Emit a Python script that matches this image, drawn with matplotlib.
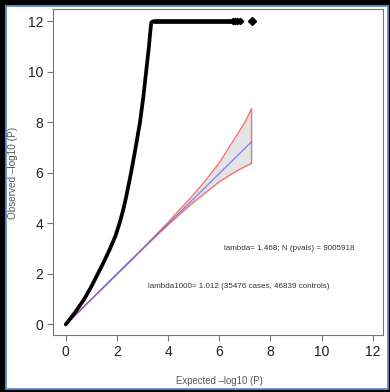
import matplotlib
matplotlib.use('Agg')
import matplotlib.pyplot as plt
from matplotlib.patches import Rectangle

plt.rcParams['font.family'] = ['Liberation Sans', 'DejaVu Sans']

# observed vs expected -log10(P)
exp_curve = [0.0, 0.36, 0.72, 1.0, 1.25, 1.5, 1.73, 1.94, 2.1, 2.235, 2.35, 2.45, 2.55, 2.64, 2.73,
             2.815, 2.9, 2.965, 3.03, 3.085, 3.14, 3.195, 3.25, 3.295, 3.34, 3.4]
obs_curve = [0.0, 0.47, 1.0, 1.5, 2.0, 2.5, 3.0, 3.5, 4.0, 4.5, 5.0, 5.5, 6.0, 6.5, 7.0,
             7.5, 8.0, 8.5, 9.0, 9.5, 10.0, 10.5, 11.0, 11.5, 11.95, 12.0]
exp_top = [3.4, 4.0, 5.0, 6.0, 6.5]
obs_top = [12.0, 12.0, 12.0, 12.0, 12.0]
exp_tail = [6.55, 6.62, 6.7, 6.8]
obs_tail = [12.0, 12.0, 12.0, 12.0]
exp_last = [7.27]
obs_last = [12.0]

# confidence band around the null line
ci_x = [0.0, 1.0, 2.0, 3.0, 4.0, 4.5, 5.0, 5.5, 6.0, 6.5, 7.0, 7.26]
ci_upper = [0.0, 1.0, 2.0, 3.0, 4.05, 4.6, 5.15, 5.75, 6.4, 7.2, 8.0, 8.55]
ci_lower = [0.0, 1.0, 2.0, 3.0, 3.95, 4.4, 4.85, 5.25, 5.65, 5.97, 6.25, 6.38]
null_x = [0.0, 7.26]
null_y = [0.0, 7.23]

ticks = [0, 2, 4, 6, 8, 10, 12]
txt_lambda = 'lambda= 1.468; N (pvals) = 9005918'
txt_lambda1000 = 'lambda1000= 1.012 (35476 cases, 46839 controls)'

fig = plt.figure(figsize=(3.9, 3.92), dpi=100)
fig.patch.set_facecolor('black')
fig.patches.append(Rectangle((5.5 / 390, 3.5 / 392), 382 / 390, 383 / 392,
                             transform=fig.transFigure, facecolor='white',
                             edgecolor='#5b8ed0', linewidth=1.3, zorder=-10))

ax = fig.add_axes([53 / 390, 1 - 335 / 392, 330 / 390, 326 / 392])
ax.set_facecolor('white')

# band
ax.fill_between(ci_x, ci_lower, ci_upper, color='#e4e4e4', zorder=1)
ax.plot(ci_x + ci_x[-1:], ci_upper + ci_lower[-1:], color='#ff6a6a', lw=0.9, zorder=2)
ax.plot(ci_x, ci_lower, color='#ff6a6a', lw=0.9, zorder=2)
ax.plot(null_x, null_y, color='#5a5aff', lw=0.9, alpha=0.75, zorder=3)

# observed
ax.plot(exp_curve, obs_curve, color='black', lw=2.7, solid_capstyle='round',
        solid_joinstyle='round', zorder=4)
ax.plot(exp_top, obs_top, color='black', lw=3.4, solid_capstyle='butt', zorder=4)
ax.plot(exp_tail, obs_tail, 'D', color='black', ms=3.2, zorder=4)
ax.plot(exp_last, obs_last, 'D', color='black', ms=3.8, zorder=4)

ax.text(8.75, 3.0, txt_lambda, fontsize=5.75, color='#333333', ha='center', va='center')
ax.text(6.75, 1.5, txt_lambda1000, fontsize=5.75, color='#333333', ha='center', va='center')

ax.set_xlim(-0.5, 12.4)
ax.set_ylim(-0.42, 12.49)
ax.set_xticks(ticks)
ax.set_yticks(ticks)
ax.tick_params(direction='out', length=4, width=0.8, color='#777777',
               labelsize=10, labelcolor='#222222', pad=3)
for s in ax.spines.values():
    s.set_color('#777777')
    s.set_linewidth(0.8)

fig.text(219 / 390, 1 - 381 / 392, 'Expected \u2013log10 (P)', fontsize=6.9,
         color='#555555', ha='center', va='center')
fig.text(13 / 390, 1 - 173 / 392, 'Observed \u2013log10 (P)', fontsize=7.2,
         color='#555555', ha='center', va='center', rotation=90)

fig.savefig('out.png', dpi=100, facecolor=fig.get_facecolor())
